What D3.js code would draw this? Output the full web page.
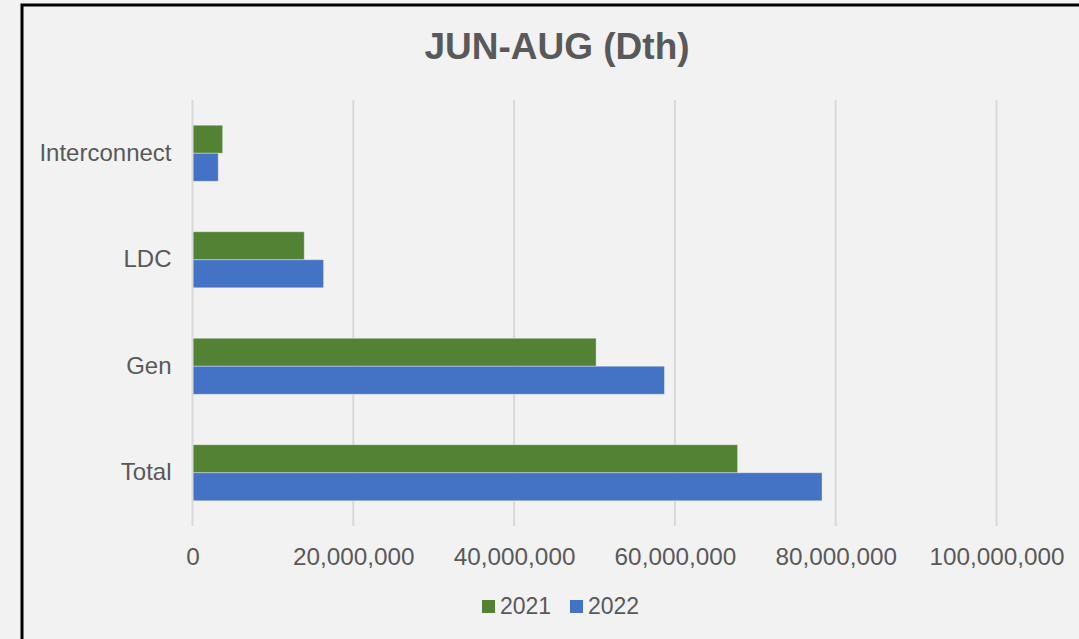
<!DOCTYPE html>
<html>
<head>
<meta charset="utf-8">
<script src="https://cdn.jsdelivr.net/npm/d3@7"></script>
<style>
    html, body { margin: 0; padding: 0; background: #f2f2f2; }
    svg { display: block; }
    text { font-family: "Liberation Sans", Arial, sans-serif; fill: #595959; }
</style>
</head>
<body>
<svg id="chart" width="1079" height="639"></svg>
<script>
// data (Dth)
const categories = ["Interconnect", "LDC", "Gen", "Total"];
const series_names = ["2021", "2022"];
const values_2021 = [3750000, 13900000, 50200000, 67800000];
const values_2022 = [3200000, 16300000, 58700000, 78300000];
const x_ticks = [0, 20000000, 40000000, 60000000, 80000000, 100000000];
const colors = ["#548235", "#4472c4"];

const series_values = [values_2021, values_2022];

let svg = d3.select("#chart");

// outer frame, runs off the right and bottom edges like the reference
svg.append("rect")
    .attr("x", 22)
    .attr("y", 5)
    .attr("width", 1200)
    .attr("height", 800)
    .style("fill", "#f2f2f2")
    .style("stroke", "black")
    .style("stroke-width", 3);

let x = d3.scaleLinear()
    .domain([0, 100000000])
    .range([192.5, 996.5]);

let y = d3.scaleBand()
    .domain(categories)
    .range([100, 526])
    .paddingInner(0.474)
    .paddingOuter(0.237);

let y_inner = d3.scaleBand()
    .domain(series_names)
    .range([0, y.bandwidth()]);

// gridlines
svg.append("g")
    .selectAll("line")
    .data(x_ticks.slice(1))
    .enter()
    .append("line")
    .attr("x1", d => x(d))
    .attr("x2", d => x(d))
    .attr("y1", 100)
    .attr("y2", 526)
    .style("stroke", "#d9d9d9")
    .style("stroke-width", 2);

// bars
let rows = [];
for (let i = 0; i < categories.length; i++) {
    for (let s = 0; s < series_names.length; s++) {
        rows.push({ cat: categories[i], series: series_names[s], value: series_values[s][i], color: colors[s] });
    }
}

svg.append("g")
    .selectAll("rect")
    .data(rows)
    .enter()
    .append("rect")
    .attr("x", x(0))
    .attr("y", d => y(d.cat) + y_inner(d.series))
    .attr("width", d => x(d.value) - x(0))
    .attr("height", y_inner.bandwidth())
    .style("fill", d => d.color)
    .style("stroke", "#ffffff")
    .style("stroke-opacity", 0.35)
    .style("stroke-width", 1);

// vertical axis line
svg.append("line")
    .attr("x1", x(0))
    .attr("x2", x(0))
    .attr("y1", 100)
    .attr("y2", 526)
    .style("stroke", "#d9d9d9")
    .style("stroke-width", 2);

// x axis labels
let x_axis = d3.axisBottom(x)
    .tickValues(x_ticks)
    .tickFormat(d3.format(","))
    .tickSize(0)
    .tickPadding(0);

let gx = svg.append("g")
    .attr("transform", "translate(0,547)")
    .call(x_axis);
gx.select(".domain").remove();
gx.selectAll("text")
    .attr("dy", "0.72em")
    .style("font-size", "24.3px")
    .style("fill", "#595959")
    .style("font-family", "'Liberation Sans', Arial, sans-serif");

// category labels
let y_axis = d3.axisLeft(y)
    .tickSize(0)
    .tickPadding(21);

let gy = svg.append("g")
    .attr("transform", "translate(" + x(0) + ",0)")
    .call(y_axis);
gy.select(".domain").remove();
gy.selectAll("text")
    .style("font-size", "24px")
    .style("fill", "#595959")
    .style("font-family", "'Liberation Sans', Arial, sans-serif");

// title
svg.append("text")
    .attr("x", 557)
    .attr("y", 59)
    .attr("text-anchor", "middle")
    .style("font-size", "37px")
    .style("font-weight", "bold")
    .text("JUN-AUG (Dth)");

// legend
let legend_x = [482, 570];
let legend = svg.append("g")
    .selectAll("g")
    .data(series_names)
    .enter()
    .append("g")
    .attr("transform", (d, i) => "translate(" + legend_x[i] + ",600)");

legend.append("rect")
    .attr("width", 13)
    .attr("height", 13)
    .style("fill", (d, i) => colors[i]);

legend.append("text")
    .attr("x", 18)
    .attr("y", 14)
    .style("font-size", "23px")
    .text(d => d);
</script>
</body>
</html>
